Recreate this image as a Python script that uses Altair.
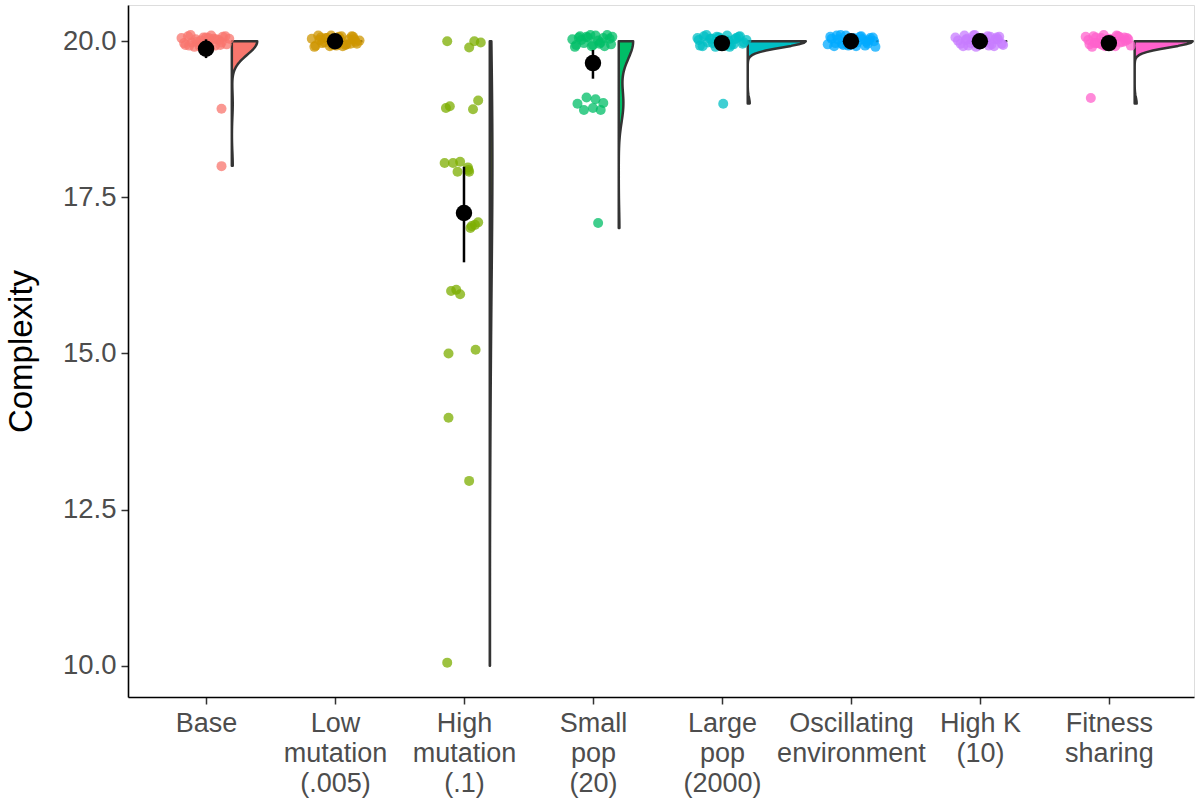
import json
import altair as alt
import pandas as pd

categories = ["Base", "Low mutation (.005)", "High mutation (.1)", "Small pop (20)",
              "Large pop (2000)", "Oscillating environment", "High K (10)", "Fitness sharing"]
label_lines = ["Base", "Low|mutation|(.005)", "High|mutation|(.1)", "Small|pop|(20)",
               "Large|pop|(2000)", "Oscillating|environment", "High K|(10)", "Fitness|sharing"]
colors = ["#F8766D", "#CD9600", "#7CAE00", "#00BE67", "#00BFC4", "#00A9FF", "#C77CFF", "#FF61CC"]

# raw complexity values per run, with the horizontal / vertical jitter
base_values = [20, 20, 20, 20, 20, 20, 20, 20, 20, 20, 20, 20, 20, 20, 20, 20, 20, 20, 20, 20,
               20, 20, 20, 20, 20, 20, 20, 20, 19, 18]
base_dx = [-0.19, -0.16, -0.14, -0.11, -0.08, -0.05, -0.02, 0.01, 0.04, 0.07, 0.10, 0.13, 0.16, 0.18,
           -0.17, -0.12, -0.09, -0.04, 0.00, 0.03, 0.06, 0.11, 0.15, -0.07, 0.08, -0.13, 0.12, 0.02,
           0.12, 0.12]
base_dy = [0.05, -0.06, 0.08, -0.02, 0.03, -0.08, 0.06, -0.04, 0.09, -0.07, 0.02, 0.07, -0.05, 0.04,
           -0.03, 0.10, -0.09, 0.01, 0.06, -0.10, 0.04, -0.06, 0.08, -0.01, 0.03, -0.07, -0.02, 0.05,
           -0.08, 0.00]

low_values = [20, 20, 20, 20, 20, 20, 20, 20, 20, 20, 20, 20, 20, 20, 20, 20, 20, 20, 20, 20,
              20, 20, 20, 20, 20, 20, 20, 20, 20, 20]
low_dx = [-0.18, -0.15, -0.13, -0.10, -0.07, -0.04, -0.01, 0.02, 0.05, 0.08, 0.11, 0.14, 0.17, 0.19,
          -0.16, -0.11, -0.08, -0.03, 0.01, 0.04, 0.09, 0.13, 0.16, -0.06, 0.06, -0.12, 0.12, 0.03,
          -0.02, 0.15]
low_dy = [0.04, -0.07, 0.09, -0.03, 0.05, -0.08, 0.02, -0.05, 0.08, -0.06, 0.03, 0.07, -0.04, 0.01,
          -0.09, 0.06, -0.02, 0.09, -0.07, 0.04, -0.05, 0.08, -0.01, 0.05, -0.08, 0.02, -0.04, 0.07,
          -0.06, 0.03]

high_values = [20, 20, 20, 20, 19, 19, 19, 19, 18, 18, 18, 18, 18, 18, 17, 17, 17, 16, 16, 16,
               15, 15, 14, 13, 10, 18, 17]
high_dx = [-0.13, 0.04, 0.08, 0.13, -0.14, -0.11, 0.07, 0.11, -0.15, -0.085, -0.03, -0.05, 0.03, 0.04,
           0.05, 0.085, 0.11, -0.10, -0.06, -0.03, -0.12, 0.09, -0.12, 0.04, -0.13, 0.035, 0.06]
high_dy = [0.00, -0.10, 0.00, -0.02, -0.07, -0.04, -0.09, 0.05, 0.05, 0.05, 0.07, -0.09, -0.02, -0.09,
           0.01, 0.06, 0.10, 0.00, 0.02, -0.05, 0.00, 0.06, -0.03, -0.04, 0.05, -0.06, 0.04]

small_values = [20, 20, 20, 20, 20, 20, 20, 20, 20, 20, 20, 20, 20, 20, 20, 20, 20, 20, 20, 20,
                20, 20, 19, 19, 19, 19, 19, 19, 19, 17]
small_dx = [-0.16, -0.13, -0.10, -0.07, -0.04, -0.01, 0.02, 0.05, 0.08, 0.11, 0.14, -0.14, -0.09, -0.05,
            0.00, 0.04, 0.09, 0.13, -0.11, 0.06, -0.02, 0.15,
            -0.12, -0.05, 0.02, 0.08, -0.07, 0.00, 0.06, 0.04]
small_dy = [0.03, -0.06, 0.08, -0.03, 0.06, -0.08, 0.09, -0.04, 0.05, 0.10, -0.05, -0.09, 0.02, 0.07,
            -0.06, 0.01, -0.08, 0.04, 0.06, -0.02, 0.10, 0.07,
            0.00, 0.10, 0.07, 0.01, -0.10, -0.07, -0.10, 0.09]

large_values = [20, 20, 20, 20, 20, 20, 20, 20, 20, 20, 20, 20, 20, 20, 20, 20, 20, 20, 20, 20,
                20, 20, 20, 20, 20, 20, 20, 20, 20, 19]
large_dx = [-0.19, -0.17, -0.14, -0.11, -0.08, -0.05, -0.02, 0.01, 0.04, 0.07, 0.10, 0.13, 0.16, 0.19,
            -0.15, -0.12, -0.07, -0.03, 0.02, 0.05, 0.09, 0.14, 0.17, -0.09, 0.06, -0.18, 0.11, 0.00,
            -0.04, 0.01]
large_dy = [0.05, -0.07, 0.08, -0.02, 0.04, -0.09, 0.06, -0.05, 0.09, -0.06, 0.03, 0.07, -0.04, 0.02,
            -0.08, 0.10, -0.03, 0.06, -0.07, 0.01, -0.05, 0.08, -0.02, 0.04, -0.09, 0.02, 0.05, -0.01,
            0.07, 0.00]

osc_values = [20, 20, 20, 20, 20, 20, 20, 20, 20, 20, 20, 20, 20, 20, 20, 20, 20, 20, 20, 20,
              20, 20, 20, 20, 20, 20, 20, 20, 20, 20]
osc_dx = [-0.18, -0.16, -0.13, -0.10, -0.07, -0.04, -0.01, 0.02, 0.05, 0.08, 0.11, 0.14, 0.17, 0.19,
          -0.15, -0.12, -0.08, -0.03, 0.00, 0.04, 0.07, 0.12, 0.15, -0.06, 0.09, -0.11, 0.13, 0.03,
          -0.02, 0.18]
osc_dy = [-0.05, 0.07, -0.08, 0.03, -0.04, 0.09, -0.06, 0.05, -0.02, 0.08, -0.07, 0.02, 0.06, -0.09,
          0.04, -0.03, 0.10, -0.05, 0.01, -0.08, 0.07, -0.01, 0.05, -0.06, 0.03, 0.09, -0.04, 0.02,
          -0.07, 0.00]

highk_values = [20, 20, 20, 20, 20, 20, 20, 20, 20, 20, 20, 20, 20, 20, 20, 20, 20, 20, 20, 20,
                20, 20, 20, 20, 20, 20, 20, 20, 20, 20]
highk_dx = [-0.19, -0.15, -0.12, -0.09, -0.06, -0.03, 0.00, 0.03, 0.06, 0.09, 0.12, 0.15, 0.18, -0.17,
            -0.13, -0.10, -0.07, -0.04, -0.01, 0.02, 0.05, 0.08, 0.11, 0.14, 0.17, -0.05, 0.07, -0.11,
            0.13, 0.01]
highk_dy = [0.06, -0.04, 0.09, -0.07, 0.02, -0.09, 0.05, -0.02, 0.08, -0.05, 0.03, 0.07, -0.06, 0.01,
            -0.08, 0.04, -0.03, 0.10, -0.06, 0.05, -0.01, 0.07, -0.08, 0.03, -0.04, 0.09, -0.07, 0.02,
            0.06, -0.03]

fit_values = [20, 20, 20, 20, 20, 20, 20, 20, 20, 20, 20, 20, 20, 20, 20, 20, 20, 20, 20, 20,
              20, 20, 20, 20, 20, 20, 20, 20, 20, 19]
fit_dx = [-0.18, -0.15, -0.12, -0.09, -0.06, -0.03, 0.00, 0.03, 0.06, 0.09, 0.12, 0.15, 0.17, -0.16,
          -0.13, -0.10, -0.07, -0.04, -0.01, 0.02, 0.05, 0.08, 0.11, 0.14, -0.05, 0.07, -0.11, 0.13,
          0.01, -0.14]
fit_dy = [0.07, -0.05, 0.08, -0.03, 0.05, -0.08, 0.04, -0.06, 0.09, -0.02, 0.06, 0.03, -0.07, 0.02,
          -0.09, 0.06, -0.04, 0.10, -0.05, 0.03, -0.08, 0.07, -0.01, 0.05, -0.06, 0.08, -0.03, 0.01,
          -0.07, 0.09]

# mean and interval shown by the black point and bar
mean_values = [19.88, 20.0, 17.25, 19.65, 19.97, 20.0, 20.0, 19.97]
ci_low = [19.73, 20.0, 16.46, 19.40, 19.91, 20.0, 20.0, 19.91]
ci_high = [20.03, 20.0, 17.99, 19.86, 20.03, 20.0, 20.0, 20.03]

groups = [
    (base_values, base_dx, base_dy), (low_values, low_dx, low_dy),
    (high_values, high_dx, high_dy), (small_values, small_dx, small_dy),
    (large_values, large_dx, large_dy), (osc_values, osc_dx, osc_dy),
    (highk_values, highk_dx, highk_dy), (fit_values, fit_dx, fit_dy),
]

rows = []
for i, (vals, dxs, dys) in enumerate(groups):
    for v, dx, dy in zip(vals, dxs, dys):
        rows.append({"idx": i, "cat": categories[i], "value": v, "dx": dx, "dy": dy})
df = pd.DataFrame(rows)

summary = pd.DataFrame({"idx": list(range(len(categories))), "cat": categories,
                        "mean": mean_values, "lo": ci_low, "hi": ci_high})

FONT = "Liberation Sans"
label_expr = "split(" + json.dumps(label_lines) + "[round(datum.value)], '|')"

xscale = alt.Scale(domain=[-0.605, 7.66], nice=False, zero=False)
yscale = alt.Scale(domain=[9.5, 20.58], nice=False, zero=False)
xaxis = alt.Axis(values=list(range(8)), labelExpr=label_expr, title="", grid=False,
                 labelFontSize=27, labelLineHeight=30, labelColor="#4D4D4D", labelFont=FONT,
                 labelOverlap=False, labelFlush=False, labelPadding=6, tickSize=7,
                 tickColor="#333333", tickWidth=1.5, domainColor="#000000", domainWidth=1.6)
yaxis = alt.Axis(values=[10, 12.5, 15, 17.5, 20], format=".1f", title="Complexity", grid=False,
                 labelFontSize=27.5, labelColor="#4D4D4D", labelFont=FONT, labelPadding=5,
                 tickSize=7, tickColor="#333333", tickWidth=1.5, domainColor="#000000",
                 domainWidth=1.6, titleFontSize=33, titleFont=FONT, titleColor="#000000",
                 titleFontWeight="normal", titlePadding=24)
color = alt.Color("cat:N", scale=alt.Scale(domain=categories, range=colors), legend=None)

violins = alt.Chart(df).transform_joinaggregate(
    minv="min(value)", maxv="max(value)", groupby=["idx"]
).transform_density(
    "value", groupby=["idx", "cat", "minv", "maxv"], as_=["v", "dens"], steps=401
).transform_filter(
    "datum.v >= datum.minv - 0.001 && datum.v <= datum.maxv + 0.001"
).transform_joinaggregate(
    maxd="max(dens)"
).transform_calculate(
    xl="datum.idx + 0.2",
    xr="datum.idx + 0.2 + 0.45 * datum.dens / datum.maxd"
).mark_area(orient="horizontal", stroke="#333333", strokeWidth=2.5, opacity=1,
            strokeJoin="round").encode(
    y=alt.Y("v:Q", scale=yscale, axis=yaxis),
    x=alt.X("xr:Q", scale=xscale, axis=xaxis),
    x2="xl:Q",
    color=color,
    detail="cat:N",
)

points = alt.Chart(df).transform_calculate(
    xj="datum.idx + datum.dx", yj="datum.value + datum.dy"
).mark_circle(size=100, opacity=0.75).encode(
    x=alt.X("xj:Q", scale=xscale, axis=xaxis),
    y=alt.Y("yj:Q", scale=yscale, axis=yaxis),
    color=color,
)

bars = alt.Chart(summary).mark_rule(color="black", strokeWidth=2.5).encode(
    x=alt.X("idx:Q", scale=xscale, axis=xaxis),
    y=alt.Y("lo:Q", scale=yscale, axis=yaxis),
    y2="hi:Q",
)

means = alt.Chart(summary).mark_circle(size=270, color="black", opacity=1).encode(
    x=alt.X("idx:Q", scale=xscale, axis=xaxis),
    y=alt.Y("mean:Q", scale=yscale, axis=yaxis),
)

chart = alt.layer(violins, points, bars, means).properties(
    width=1066, height=692,
    autosize=alt.AutoSizeParams(type="none"),
    padding={"left": 128, "top": 5, "right": 2, "bottom": 107},
).configure_view(stroke=None).configure(font=FONT)

chart.save("out.html", embed_options={"renderer": "svg", "actions": False})
